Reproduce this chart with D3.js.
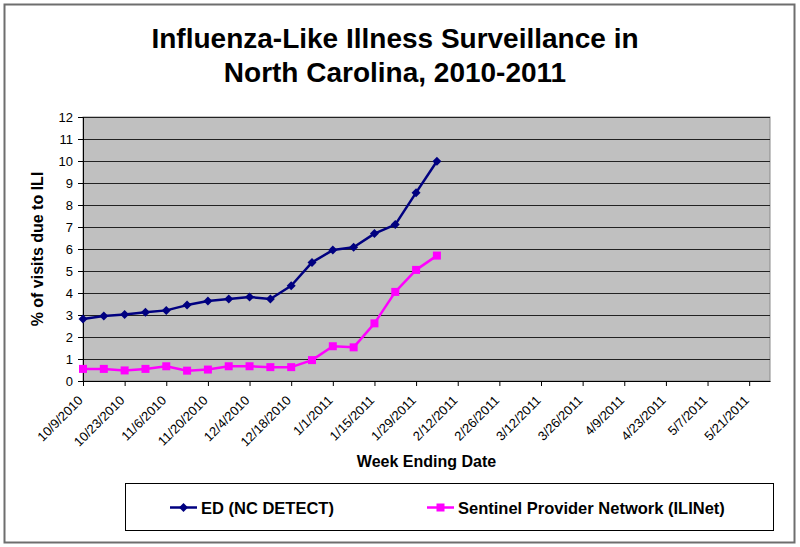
<!DOCTYPE html>
<html>
<head>
<meta charset="utf-8">
<script src="https://cdn.jsdelivr.net/npm/d3@7"></script>
<style>
  body { margin: 0; background: #fff; }
  svg text { font-family: "Liberation Sans", Arial, sans-serif; }
</style>
</head>
<body>
<div id="chart"></div>
<script>
// week ending dates (categories)
const weeks = [
  '10/9/2010', '10/16/2010', '10/23/2010', '10/30/2010', '11/6/2010', '11/13/2010',
  '11/20/2010', '11/27/2010', '12/4/2010', '12/11/2010', '12/18/2010', '12/25/2010',
  '1/1/2011', '1/8/2011', '1/15/2011', '1/22/2011', '1/29/2011', '2/5/2011',
  '2/12/2011', '2/19/2011', '2/26/2011', '3/5/2011', '3/12/2011', '3/19/2011',
  '3/26/2011', '4/2/2011', '4/9/2011', '4/16/2011', '4/23/2011', '4/30/2011',
  '5/7/2011', '5/14/2011', '5/21/2011', '5/28/2011'
]
// labelled ticks (every 2nd week)
const tickLabels = [
  '10/9/2010', '10/23/2010', '11/6/2010', '11/20/2010', '12/4/2010', '12/18/2010',
  '1/1/2011', '1/15/2011', '1/29/2011', '2/12/2011', '2/26/2011', '3/12/2011',
  '3/26/2011', '4/9/2011', '4/23/2011', '5/7/2011', '5/21/2011'
]
const yTicks = [0, 1, 2, 3, 4, 5, 6, 7, 8, 9, 10, 11, 12]

// % of visits due to ILI
const edValues = [2.82, 2.95, 3.02, 3.12, 3.21, 3.45, 3.64, 3.73, 3.82, 3.73, 4.33, 5.39,
  5.95, 6.08, 6.70, 7.11, 8.56, 9.99]
const ilinetValues = [0.55, 0.55, 0.48, 0.55, 0.67, 0.47, 0.52, 0.67, 0.67, 0.63, 0.63, 0.95,
  1.58, 1.53, 2.62, 4.05, 5.05, 5.70]

const seriesNames = ['ED (NC DETECT)', 'Sentinel Provider Network (ILINet)']

const W = 800, H = 547
const plot = {left: 83, right: 770, top: 117, bottom: 381}

const svg = d3.select('#chart').append('svg')
    .attr('width', W)
    .attr('height', H)

// outer chart frame
svg.append('rect')
    .attr('x', 4.5).attr('y', 4.5)
    .attr('width', 790).attr('height', 538)
    .style('fill', '#fff')
    .style('stroke', '#6e6e6e')
    .style('stroke-width', 2)

// title
const title = svg.append('text')
    .attr('text-anchor', 'middle')
    .style('font-size', '28px')
    .style('font-weight', 'bold')
title.append('tspan').attr('x', 395).attr('y', 48).text('Influenza-Like Illness Surveillance in')
title.append('tspan').attr('x', 395).attr('y', 82).text('North Carolina, 2010-2011')

//scales
const x = d3.scalePoint()
    .domain(weeks)
    .range([plot.left, plot.right])
const y = d3.scaleLinear()
    .domain([0, 12])
    .range([plot.bottom, plot.top])

// plot area
svg.append('rect')
    .attr('x', plot.left).attr('y', plot.top)
    .attr('width', plot.right - plot.left)
    .attr('height', plot.bottom - plot.top)
    .style('fill', '#c0c0c0')
    .style('stroke', '#8a8a8a')
    .style('stroke-width', 1)

// gridlines
svg.append('g')
    .selectAll('line')
    .data(yTicks.filter(d => d > 0))
    .enter().append('line')
    .attr('x1', plot.left).attr('x2', plot.right)
    .attr('y1', d => Math.round(y(d)) + 0.5)
    .attr('y2', d => Math.round(y(d)) + 0.5)
    .style('stroke', '#222')
    .style('stroke-width', 1)

// y axis
const yAxis = svg.append('g')
    .attr('transform', `translate(${plot.left},0)`)
    .call(d3.axisLeft(y).tickValues(yTicks).tickSize(5).tickPadding(5))
yAxis.select('.domain').style('stroke', '#000')
yAxis.selectAll('text')
    .style('font-size', '13px')
    .style('font-family', '"Liberation Sans", Arial, sans-serif')
    .style('fill', '#000')

// x axis
const xAxis = svg.append('g')
    .attr('transform', `translate(0,${plot.bottom})`)
    .call(d3.axisBottom(x).tickValues(tickLabels).tickSize(5).tickSizeOuter(0))
xAxis.select('.domain').style('stroke', '#000')
xAxis.selectAll('text')
    .style('font-size', '13px')
    .style('font-family', '"Liberation Sans", Arial, sans-serif')
    .style('fill', '#000')
    .attr('text-anchor', 'end')
    .attr('x', 0).attr('y', 0)
    .attr('dy', '0.35em')
    .attr('transform', 'translate(-3,17) rotate(-45)')

// axis titles
svg.append('text')
    .attr('transform', `translate(37,${(plot.top + plot.bottom) / 2}) rotate(-90)`)
    .attr('text-anchor', 'middle')
    .attr('dy', '0.35em')
    .style('font-size', '16px')
    .style('font-weight', 'bold')
    .text('% of visits due to ILI')

svg.append('text')
    .attr('x', (plot.left + plot.right) / 2)
    .attr('y', 467)
    .attr('text-anchor', 'middle')
    .style('font-size', '16px')
    .style('font-weight', 'bold')
    .text('Week Ending Date')

// lines
const line = d3.line()
    .x((d, i) => x(weeks[i]))
    .y(d => y(d))

const series = [
    {name: seriesNames[0], values: edValues, color: '#000080', marker: 'diamond'},
    {name: seriesNames[1], values: ilinetValues, color: '#ff00ff', marker: 'square'}
]

const diamond = s => `M0,${-s}L${s},0L0,${s}L${-s},0Z`

series.forEach(s => {
    svg.append('path')
        .datum(s.values)
        .attr('d', line)
        .style('fill', 'none')
        .style('stroke', s.color)
        .style('stroke-width', 2.5)
        .style('stroke-linejoin', 'round')

    const pts = svg.append('g').selectAll('.pt')
        .data(s.values)
        .enter()
    if (s.marker === 'diamond') {
        pts.append('path')
            .attr('d', diamond(4.5))
            .attr('transform', (d, i) => `translate(${x(weeks[i])},${y(d)})`)
            .style('fill', s.color)
    } else {
        pts.append('rect')
            .attr('x', (d, i) => x(weeks[i]) - 4)
            .attr('y', d => y(d) - 4)
            .attr('width', 8).attr('height', 8)
            .style('fill', s.color)
    }
})

// legend
svg.append('rect')
    .attr('x', 125.5).attr('y', 483.5)
    .attr('width', 648).attr('height', 47)
    .style('fill', '#fff')
    .style('stroke', '#000')
    .style('stroke-width', 1)

const legendX = [170, 427]
series.forEach((s, i) => {
    const g = svg.append('g').attr('transform', `translate(${legendX[i]},507.5)`)
    g.append('line')
        .attr('x1', 0).attr('x2', 27)
        .style('stroke', s.color)
        .style('stroke-width', 2.5)
    if (s.marker === 'diamond') {
        g.append('path').attr('d', diamond(4.5)).attr('transform', 'translate(13.5,0)').style('fill', s.color)
    } else {
        g.append('rect').attr('x', 9.5).attr('y', -4).attr('width', 8).attr('height', 8).style('fill', s.color)
    }
    g.append('text')
        .attr('x', 31)
        .attr('y', 6)
        .style('font-size', '16.5px')
        .style('font-weight', 'bold')
        .text(s.name)
})
</script>
</body>
</html>
